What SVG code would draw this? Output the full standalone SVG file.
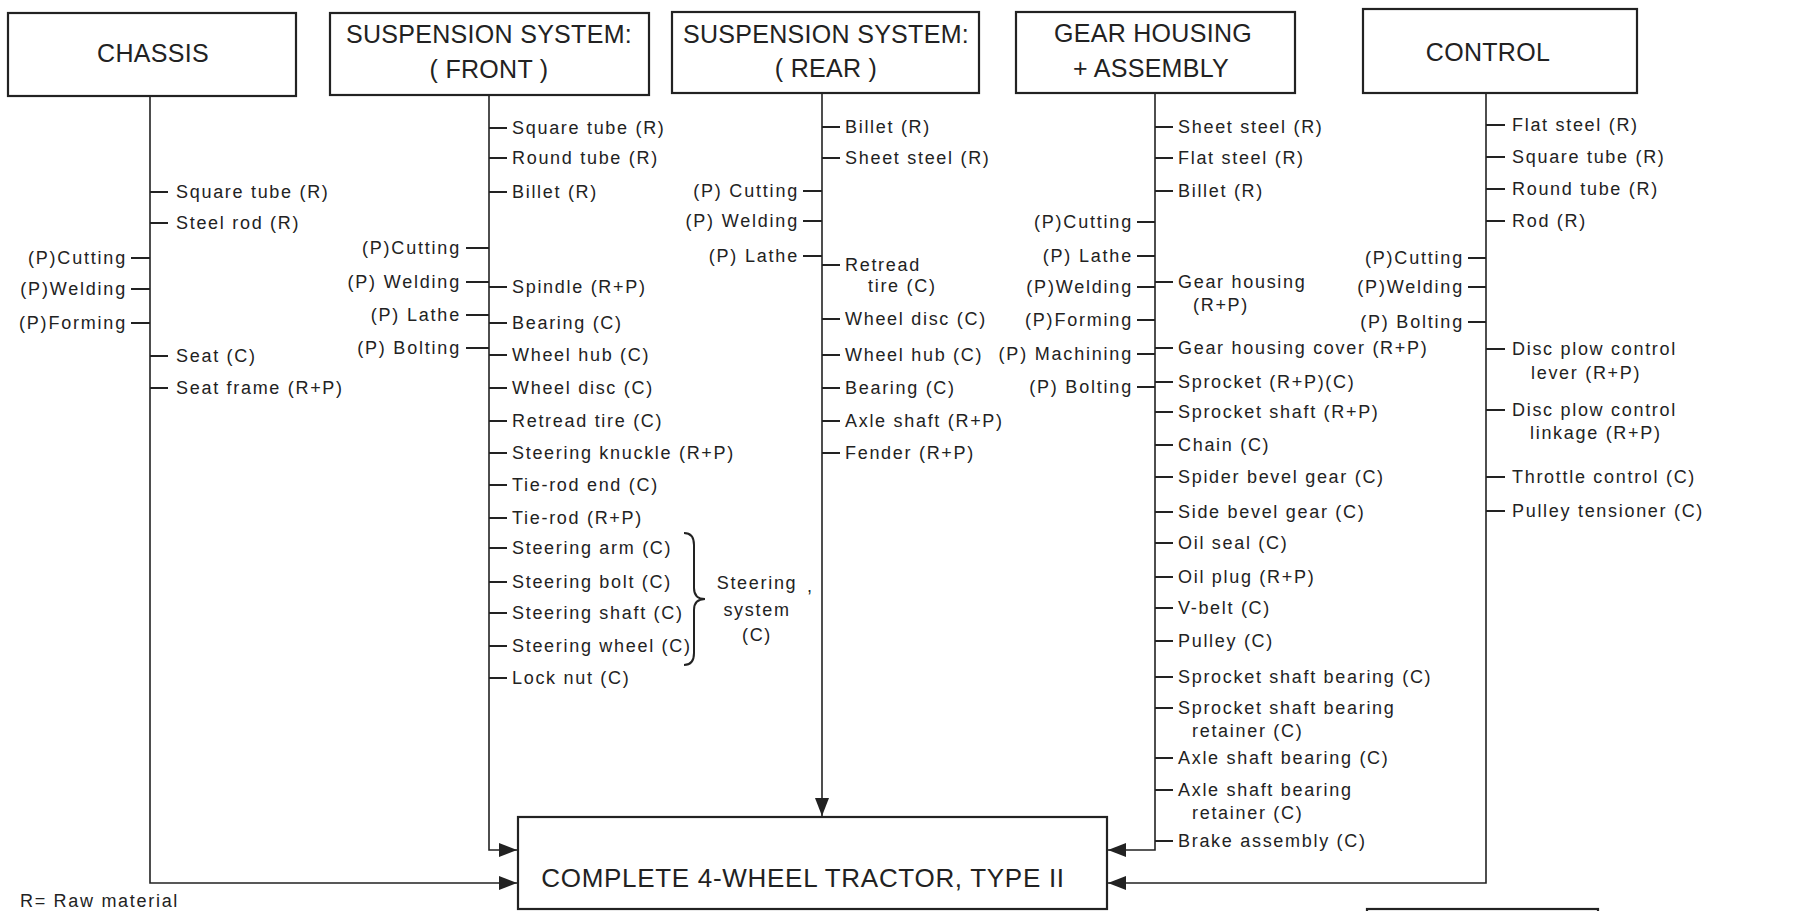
<svg xmlns="http://www.w3.org/2000/svg" width="1793" height="911" viewBox="0 0 1793 911">
<style>
.box{fill:#fff;stroke:#222;stroke-width:2.2}
.hd{font-family:"Liberation Sans",Arial,sans-serif;font-size:25px;letter-spacing:0.3px;fill:#222;text-anchor:middle}
.big{font-family:"Liberation Sans",Arial,sans-serif;font-size:26px;letter-spacing:0.7px;fill:#222;text-anchor:middle}
.it{font-family:"Liberation Sans",Arial,sans-serif;font-size:18px;letter-spacing:1.7px;fill:#222}
.pr{font-family:"Liberation Sans",Arial,sans-serif;font-size:18px;letter-spacing:1.8px;fill:#222;text-anchor:end}
.ln{stroke:#222;stroke-width:1.6;fill:none}
.tk{stroke:#222;stroke-width:2;fill:none}
</style>
<defs>
<marker id="ah" markerUnits="userSpaceOnUse" markerWidth="18" markerHeight="14" refX="18" refY="7" orient="auto">
<path d="M0,0 L18,7 L0,14 z" fill="#222"/>
</marker>
</defs>
<rect width="1793" height="911" fill="#fff"/>

<g id="connectors">
<path class="ln" d="M150,96 V883 H517" marker-end="url(#ah)"/>
<path class="ln" d="M489,95 V850 H517" marker-end="url(#ah)"/>
<path class="ln" d="M822,93 V816" marker-end="url(#ah)"/>
<path class="ln" d="M1155,93 V850 H1108" marker-end="url(#ah)"/>
<path class="ln" d="M1486,93 V883 H1108" marker-end="url(#ah)"/>
<path class="tk" d="M150,192h18M150,223h18M150,356h18M150,388h18M131,258h19M131,289h19M131,323h19"/>
<path class="tk" d="M489,128h18M489,158h18M489,192h18M489,287h18M489,323h18M489,355h18M489,388h18M489,421h18M489,453h18M489,485h18M489,518h18M489,548h18M489,582h18M489,613h18M489,646h18M489,678h18M466,248h23M466,282h23M466,315h23M466,348h23"/>
<path class="tk" d="M822,127h18M822,158h18M822,265h18M822,319h18M822,355h18M822,388h18M822,421h18M822,453h18M803,191h19M803,221h19M803,256h19"/>
<path class="tk" d="M1155,127h18M1155,158h18M1155,191h18M1155,282h18M1155,348h18M1155,382h18M1155,412h18M1155,445h18M1155,477h18M1155,512h18M1155,543h18M1155,577h18M1155,608h18M1155,641h18M1155,677h18M1155,708h18M1155,758h18M1155,790h18M1155,841h18M1137,222h18M1137,256h18M1137,287h18M1137,320h18M1137,354h18M1137,387h18"/>
<path class="tk" d="M1486,125h19M1486,157h19M1486,189h19M1486,221h19M1486,349h19M1486,410h19M1486,477h19M1486,511h19M1468,258h18M1468,287h18M1468,322h18"/>
</g>

<g id="chassis">
<rect class="box" x="8" y="13" width="288" height="83"/>
<text class="hd" x="153" y="62">CHASSIS</text>
</g>
<g id="chassis-items">
<text class="it" x="176" y="198">Square tube (R)</text>
<text class="it" x="176" y="229">Steel rod (R)</text>
<text class="it" x="176" y="362">Seat (C)</text>
<text class="it" x="176" y="394">Seat frame (R+P)</text>
<text class="pr" x="127" y="264">(P)Cutting</text>
<text class="pr" x="127" y="295">(P)Welding</text>
<text class="pr" x="127" y="329">(P)Forming</text>
</g>

<g id="suspension-front">
<rect class="box" x="330" y="13" width="319" height="82"/>
<text class="hd" x="489" y="43">SUSPENSION SYSTEM:</text>
<text class="hd" x="489" y="78">( FRONT )</text>
</g>
<g id="front-items">
<text class="it" x="512" y="134">Square tube (R)</text>
<text class="it" x="512" y="164">Round tube (R)</text>
<text class="it" x="512" y="198">Billet (R)</text>
<text class="it" x="512" y="293">Spindle (R+P)</text>
<text class="it" x="512" y="329">Bearing (C)</text>
<text class="it" x="512" y="361">Wheel hub (C)</text>
<text class="it" x="512" y="394">Wheel disc (C)</text>
<text class="it" x="512" y="427">Retread tire (C)</text>
<text class="it" x="512" y="459">Steering knuckle (R+P)</text>
<text class="it" x="512" y="491">Tie-rod end (C)</text>
<text class="it" x="512" y="524">Tie-rod (R+P)</text>
<text class="it" x="512" y="554">Steering arm (C)</text>
<text class="it" x="512" y="588">Steering bolt (C)</text>
<text class="it" x="512" y="619">Steering shaft (C)</text>
<text class="it" x="512" y="652" letter-spacing="1.2">Steering wheel (C)</text>
<text class="it" x="512" y="684">Lock nut (C)</text>
<text class="pr" x="461" y="254">(P)Cutting</text>
<text class="pr" x="461" y="288">(P) Welding</text>
<text class="pr" x="461" y="321">(P) Lathe</text>
<text class="pr" x="461" y="354">(P) Bolting</text>
<path class="tk" d="M684,533 Q694,533 694,545 L694,588 Q694,599 705,599 Q694,599 694,610 L694,653 Q694,665 684,665"/>
<text class="it" x="757" y="589" text-anchor="middle">Steering</text>
<text class="it" x="807" y="592">,</text>
<text class="it" x="757" y="616" text-anchor="middle">system</text>
<text class="it" x="757" y="641" text-anchor="middle">(C)</text>
</g>

<g id="suspension-rear">
<rect class="box" x="672" y="12" width="307" height="81"/>
<text class="hd" x="826" y="43">SUSPENSION SYSTEM:</text>
<text class="hd" x="826" y="77">( REAR )</text>
</g>
<g id="rear-items">
<text class="it" x="845" y="133">Billet (R)</text>
<text class="it" x="845" y="164">Sheet steel (R)</text>
<text class="it" x="845" y="271">Retread</text>
<text class="it" x="868" y="292">tire (C)</text>
<text class="it" x="845" y="325">Wheel disc (C)</text>
<text class="it" x="845" y="361">Wheel hub (C)</text>
<text class="it" x="845" y="394">Bearing (C)</text>
<text class="it" x="845" y="427">Axle shaft (R+P)</text>
<text class="it" x="845" y="459">Fender (R+P)</text>
<text class="pr" x="799" y="197">(P) Cutting</text>
<text class="pr" x="799" y="227">(P) Welding</text>
<text class="pr" x="799" y="262">(P) Lathe</text>
</g>

<g id="gear-housing">
<rect class="box" x="1016" y="12" width="279" height="81"/>
<text class="hd" x="1153" y="42">GEAR HOUSING</text>
<text class="hd" x="1151" y="77">+ ASSEMBLY</text>
</g>
<g id="gear-items">
<text class="it" x="1178" y="133">Sheet steel (R)</text>
<text class="it" x="1178" y="164">Flat steel (R)</text>
<text class="it" x="1178" y="197">Billet (R)</text>
<text class="it" x="1178" y="288">Gear housing</text>
<text class="it" x="1193" y="311">(R+P)</text>
<text class="it" x="1178" y="354">Gear housing cover (R+P)</text>
<text class="it" x="1178" y="388">Sprocket (R+P)(C)</text>
<text class="it" x="1178" y="418">Sprocket shaft (R+P)</text>
<text class="it" x="1178" y="451">Chain (C)</text>
<text class="it" x="1178" y="483">Spider bevel gear (C)</text>
<text class="it" x="1178" y="518">Side bevel gear (C)</text>
<text class="it" x="1178" y="549">Oil seal (C)</text>
<text class="it" x="1178" y="583">Oil plug (R+P)</text>
<text class="it" x="1178" y="614">V-belt (C)</text>
<text class="it" x="1178" y="647">Pulley (C)</text>
<text class="it" x="1178" y="683" letter-spacing="1.3">Sprocket shaft bearing (C)</text>
<text class="it" x="1178" y="714" letter-spacing="1.3">Sprocket shaft bearing</text>
<text class="it" x="1192" y="737">retainer (C)</text>
<text class="it" x="1178" y="764">Axle shaft bearing (C)</text>
<text class="it" x="1178" y="796">Axle shaft bearing</text>
<text class="it" x="1192" y="819">retainer (C)</text>
<text class="it" x="1178" y="847">Brake assembly (C)</text>
<text class="pr" x="1133" y="228">(P)Cutting</text>
<text class="pr" x="1133" y="262">(P) Lathe</text>
<text class="pr" x="1133" y="293">(P)Welding</text>
<text class="pr" x="1133" y="326">(P)Forming</text>
<text class="pr" x="1133" y="360" letter-spacing="1.4">(P) Machining</text>
<text class="pr" x="1133" y="393">(P) Bolting</text>
</g>

<g id="control">
<rect class="box" x="1363" y="9" width="274" height="84"/>
<text class="hd" x="1488" y="61">CONTROL</text>
</g>
<g id="control-items">
<text class="it" x="1512" y="131">Flat steel (R)</text>
<text class="it" x="1512" y="163">Square tube (R)</text>
<text class="it" x="1512" y="195">Round tube (R)</text>
<text class="it" x="1512" y="227">Rod (R)</text>
<text class="it" x="1512" y="355">Disc plow control</text>
<text class="it" x="1531" y="379">lever (R+P)</text>
<text class="it" x="1512" y="416">Disc plow control</text>
<text class="it" x="1530" y="439">linkage (R+P)</text>
<text class="it" x="1512" y="483">Throttle control (C)</text>
<text class="it" x="1512" y="517">Pulley tensioner (C)</text>
<text class="pr" x="1464" y="264">(P)Cutting</text>
<text class="pr" x="1464" y="293">(P)Welding</text>
<text class="pr" x="1464" y="328">(P) Bolting</text>
</g>

<g id="complete-tractor">
<rect class="box" x="518" y="817" width="589" height="92"/>
<text class="big" x="803" y="887">COMPLETE 4-WHEEL TRACTOR, TYPE II</text>
</g>

<g id="legend">
<text class="it" x="20" y="907">R= Raw material</text>
<rect class="box" x="1367" y="909" width="231" height="20"/>
</g>
</svg>
